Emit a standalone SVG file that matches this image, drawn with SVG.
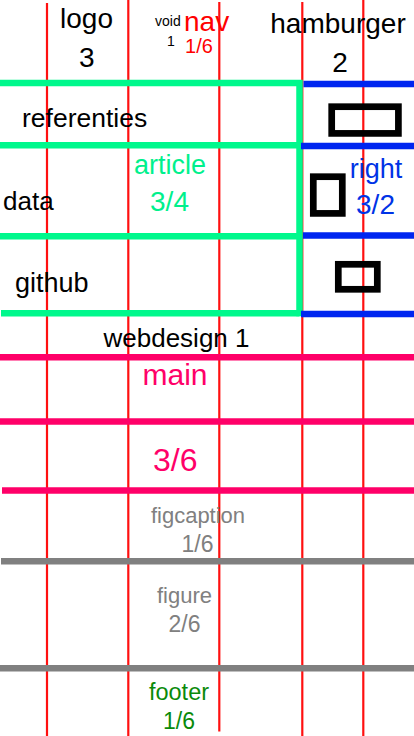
<svg xmlns="http://www.w3.org/2000/svg" width="414" height="736" viewBox="0 0 414 736">
<style>
.grid line{stroke:#ff1010;stroke-width:2.2}
.t{font-family:"Liberation Sans",Arial,sans-serif}
.k{fill:#000}
.g{stroke:#00F88C;stroke-width:6.5;fill:none}
.b{stroke:#0026F0;stroke-width:6.5}
.p{stroke:#FF0068;stroke-width:6.5}
.y{stroke:#808080;stroke-width:6.5}
.box{fill:none;stroke:#000;stroke-width:6.7}
.m{text-anchor:middle}
</style>
<rect width="414" height="736" fill="#fff"/>
<g id="grid" class="grid">
<line x1="47" y1="3" x2="47" y2="736"/>
<line x1="128.3" y1="0" x2="128.3" y2="736"/>
<line x1="219.3" y1="2" x2="219.3" y2="731.5"/>
<line x1="302.3" y1="2" x2="302.3" y2="736"/>
<line x1="363.3" y1="0" x2="363.3" y2="736"/>
</g>
<g id="connectors">
<g id="article-lines" class="g">
<path d="M0 83 H299.5 V316.3"/>
<line x1="0" y1="145.3" x2="299.5" y2="145.3"/>
<line x1="0" y1="236.2" x2="299.5" y2="236.2"/>
<line x1="1" y1="313.2" x2="299.5" y2="313.2"/>
</g>
<g id="right-lines" class="b">
<line x1="303.5" y1="84" x2="414" y2="84"/>
<line x1="301" y1="146" x2="414" y2="146"/>
<line x1="303" y1="235.4" x2="414" y2="235.4"/>
<line x1="301" y1="314" x2="414" y2="314"/>
</g>
<g id="main-lines" class="p">
<line x1="0" y1="357.3" x2="414" y2="357.3"/>
<line x1="0" y1="421.5" x2="414" y2="421.5"/>
<line x1="2" y1="490.5" x2="414" y2="490.5"/>
</g>
<g id="figure-lines" class="y">
<line x1="1" y1="561.3" x2="414" y2="561.3"/>
<line x1="0" y1="668.3" x2="414" y2="668.3"/>
</g>
</g>
<g id="logo" class="t k">
<text x="86.5" y="28" font-size="28" class="m">logo</text>
<text x="86.7" y="66.7" font-size="28" class="m">3</text>
</g>
<g id="void" class="t k">
<text x="155" y="26" font-size="14">void</text>
<text x="171" y="46" font-size="14" class="m">1</text>
</g>
<g id="nav" class="t" fill="#ff0000">
<text x="184" y="30.5" font-size="28">nav</text>
<text x="199" y="53.3" font-size="20" class="m">1/6</text>
</g>
<g id="hamburger" class="t k">
<text x="338" y="33.3" font-size="28" class="m">hamburger</text>
<text x="340" y="71.7" font-size="28" class="m">2</text>
</g>
<g id="referenties" class="t k"><text x="22" y="127" font-size="26.5">referenties</text></g>
<g id="data" class="t k"><text x="3" y="210" font-size="26">data</text></g>
<g id="github" class="t k"><text x="15" y="291.7" font-size="27">github</text></g>
<g id="article" class="t" fill="#00F08C">
<text x="170" y="174" font-size="27" class="m">article</text>
<text x="169.5" y="210.7" font-size="28" class="m">3/4</text>
</g>
<g id="right" class="t" fill="#0033E6">
<text x="376" y="178" font-size="27" class="m">right</text>
<text x="375.5" y="214" font-size="28" class="m">3/2</text>
</g>
<g id="icons">
<rect class="box" x="331.7" y="106.7" width="66.7" height="26.7"/>
<rect class="box" x="313.3" y="176.7" width="29" height="36.7"/>
<rect class="box" x="338.3" y="264.3" width="39" height="25"/>
</g>
<g id="webdesign" class="t k"><text x="176.5" y="347" font-size="26" class="m">webdesign 1</text></g>
<g id="main" class="t" fill="#FF0068">
<text x="175" y="385" font-size="30" class="m">main</text>
<text x="175.3" y="470.7" font-size="32" class="m">3/6</text>
</g>
<g id="figcaption" class="t" fill="#808080">
<text x="198" y="523.3" font-size="22" class="m">figcaption</text>
<text x="197.5" y="551.7" font-size="23" class="m">1/6</text>
</g>
<g id="figure" class="t" fill="#808080">
<text x="184.5" y="603" font-size="22" class="m">figure</text>
<text x="184.5" y="632.3" font-size="23" class="m">2/6</text>
</g>
<g id="footer" class="t" fill="#0A8A0A">
<text x="179" y="700" font-size="23.5" class="m">footer</text>
<text x="179" y="729.3" font-size="23" class="m">1/6</text>
</g>
</svg>
